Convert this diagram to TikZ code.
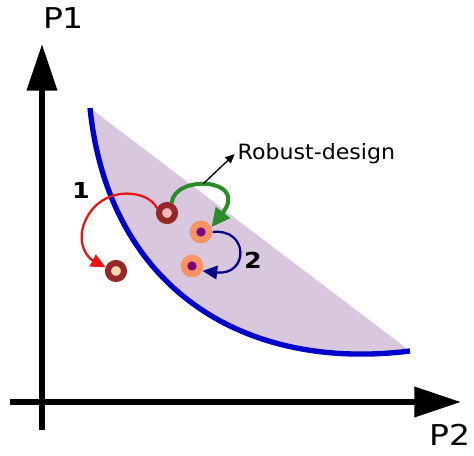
\documentclass[tikz,border=0pt]{standalone}
\usepackage{fontspec}
\setmainfont{DejaVu Sans}
\newfontfamily\notefont[FakeStretch=1.15]{DejaVu Sans}
\newfontfamily\pointerfont[FakeStretch=1.05]{DejaVu Sans}
\usetikzlibrary{arrows.meta}

\definecolor{regionfill}{RGB}{217,199,222}
\definecolor{frontblue}{RGB}{0,0,200}
\definecolor{ringbrown}{RGB}{150,40,40}
\definecolor{ringpink}{RGB}{246,186,190}
\definecolor{ringpeach}{RGB}{250,214,176}
\definecolor{optorange}{RGB}{248,146,98}
\definecolor{optpurple}{RGB}{130,0,130}
\definecolor{arcred}{RGB}{235,20,20}
\definecolor{arcgreen}{RGB}{40,140,40}
\definecolor{arcnavy}{RGB}{0,0,140}

\tikzset{
  axis/.style={line width=4.5pt, -{Triangle[length=35pt,width=22pt]}},
  axislabel/.style={font=\notefont\fontsize{21.5}{24}\selectfont, inner sep=0pt},
  steplabel/.style={font=\notefont\fontsize{16.5}{19}\selectfont\bfseries, inner sep=0pt},
  ring/.style={circle, draw=ringbrown, line width=4.6pt, minimum size=12pt, inner sep=0pt},
  optring/.style={circle, fill=optorange, minimum size=17pt, inner sep=0pt},
  optcore/.style={circle, fill=optpurple, minimum size=7pt, inner sep=0pt},
  movearc/.style={line width=1.7pt, -{Triangle[length=11pt,width=10pt]}},
}

\begin{document}
\begin{tikzpicture}[x=0.75pt,y=-0.75pt]
			%%%%% START %%%%%
			\useasboundingbox (0,0) rectangle (474,456);

			% feasible region and front
			\fill[regionfill] (90,108) -- (410,351) .. controls (240,372) and (108,285) .. (90,108);
			\draw[frontblue, line width=4pt] (90,108) .. controls (108,285) and (240,372) .. (410,351);

			% axes
			\draw[axis] (42,430) -- (42,44);
			\draw[axis] (10,402) -- (461,402);
			\node[axislabel] (p1) at (63.5,18) {P1};
			\node[axislabel] (p2) at (450,435) {P2};

			% designs
			\node[ring, fill=ringpink] (start) at (167,213) {};
			\node[ring, fill=ringpeach] (old) at (116,271) {};
			\node[optring] (opt1) at (201,232) {};
			\node[optcore] (core1) at (opt1) {};
			\node[optring] (opt2) at (192,266) {};
			\node[optcore] (core2) at (opt2) {};

			% moves
			\draw[movearc, arcred] (start.155) .. controls (148,188) and (96,184) .. (83,227)
			      .. controls (78,246) and (88,258) .. (old.160);
			\draw[movearc, arcgreen, line width=3pt, -{Triangle[length=14pt,width=13pt]}]
			      (start.65) .. controls (174,174) and (250,178) .. (opt1.25);
			\draw[movearc, arcnavy] (opt1.east) .. controls (249,228) and (249,276) .. (opt2.-25);

			\node[steplabel] (one) at (81,190) {1};
			\node[steplabel] (two) at (253,260) {2};

			% robust design pointer
			\coordinate (gtop) at (203,184);
			\node[anchor=west, inner sep=1pt, font=\pointerfont\fontsize{15.8}{18}\selectfont] (robust) at (236,154) {Robust-design};
			\draw[line width=1pt, -{Triangle[length=7pt,width=6pt]}] (gtop) -- ([xshift=-1pt]robust.west);
			%%%%% END %%%%%
\end{tikzpicture}
\end{document}
